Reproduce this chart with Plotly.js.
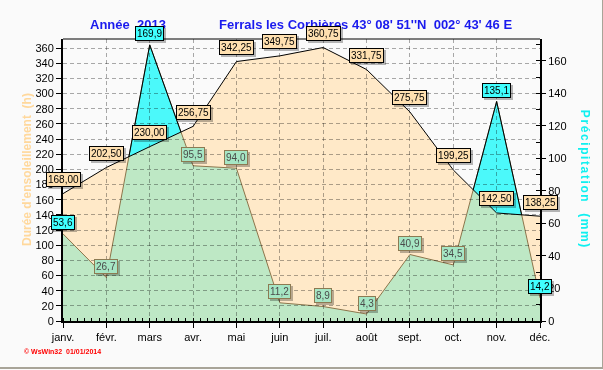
<!DOCTYPE html>
<html><head><meta charset="utf-8">
<script src="https://cdn.plot.ly/plotly-3.0.1.min.js"></script>
<style>
html,body{margin:0;padding:0;background:#fafafa;}
#wrap{width:602px;height:367px;border-right:1px solid #a8a498;border-bottom:2px solid #a8a498;}
#chart{width:602px;height:367px;}
.annotation rect.bg{filter:drop-shadow(2px 2px 0 rgba(0,0,0,0.28));}
</style></head><body><div id="wrap"><div id="chart"></div></div>
<script>
const months = ['janv.','févr.','mars','avr.','mai','juin','juil.','août','sept.','oct.','nov.','déc.'];
const sunshine = [168.00,202.50,230.00,256.75,342.25,349.75,360.75,331.75,275.75,199.25,142.50,138.25];
const precipitation = [53.6,26.7,169.9,95.5,94.0,11.2,8.9,4.3,40.9,34.5,135.1,14.2];
const cyanLabelIdx = [0,2,10,11];
const xs = months.map((m,i)=>i);

const FONT = 'Arial, "Liberation Sans", sans-serif';
const fmt = (v,d)=>v.toFixed(d).replace('.',',');

const data = [
  {x:xs, y:precipitation, yaxis:'y', mode:'lines', fill:'tozeroy',
   fillcolor:'rgb(100,250,253)', line:{color:'#000',width:1}},
  {x:xs, y:sunshine, yaxis:'y2', mode:'lines', fill:'tozeroy',
   fillcolor:'rgb(255,233,200)', line:{color:'#000',width:1}},
  {x:xs, y:precipitation, yaxis:'y3', mode:'lines', fill:'tozeroy',
   fillcolor:'rgb(190,254,252)', line:{color:'rgb(140,128,96)',width:1}}
];

const gridc = 'rgba(0,0,0,0.33)';
const ann = [];
const px = v => (v-63)/477, py = v => (321-v)/282;
const paperAnn = (x,y,text,font,extra)=>Object.assign({xref:'paper',yref:'paper',x:px(x),y:py(y),
  xanchor:'center',yanchor:'middle',text:text,showarrow:false,font:font},extra||{});
ann.push(paperAnn(128,24,'<b>Année\u00a0 2013</b>',{family:FONT,size:13,color:'#1a1aee'}));
ann.push(paperAnn(365,24,"<b>Ferrals les Corbières 43° 08' 51''N\u00a0 002° 43' 46 E</b>",{family:FONT,size:13,color:'#1a1aee'}));
ann.push(paperAnn(27,170,"<b>Durée d'ensoleillement\u00a0 (h)</b>",{family:FONT,size:12,color:'#ffd89c'},{textangle:-90}));
ann.push(paperAnn(585,179,'<b>Précipitation\u00a0 (mm)</b>',{family:FONT,size:12,color:'#10f0f0'},{textangle:90}));
ann.push(paperAnn(22,351,'<b>© WsWin32\u00a0 01/01/2014</b>',{family:FONT,size:7,color:'#ff0000'},{xanchor:'left'}));

sunshine.forEach((v,i)=>ann.push({x:xs[i],y:v,xref:'x',yref:'y2',xanchor:'center',yanchor:'middle',
  text:fmt(v,2),showarrow:false,yshift:14,
  bgcolor:'#ffe0b0',bordercolor:'#000',borderwidth:1,borderpad:1,font:{family:FONT,size:10,color:'#000'}}));
precipitation.forEach((v,i)=>{
  const c = cyanLabelIdx.includes(i);
  ann.push({x:xs[i],y:v,xref:'x',yref:'y',xanchor:'center',yanchor:'middle',
    text:fmt(v,1),showarrow:false,yshift:11,
    bgcolor:c?'#40ffff':'#a6e6c4',bordercolor:c?'#000':'#8c7a52',borderwidth:1,borderpad:1,
    font:{family:FONT,size:10,color:c?'#000':'#4a4a4a'}});
});

const layout = {
  width:602, height:367,
  margin:{l:63,r:62,t:39,b:46,pad:0},
  paper_bgcolor:'#fafafa', plot_bgcolor:'#fafafa',
  showlegend:false,
  font:{family:FONT,size:11,color:'#000'},
  xaxis:{range:[0,11], tickmode:'array', tickvals:xs, ticktext:months,
    showgrid:true, gridcolor:gridc, griddash:'4px,3px', gridwidth:1,
    showline:true, linecolor:'#000', linewidth:2, zeroline:false,
    ticks:'outside', ticklen:5, tickcolor:'#000', tickfont:{size:11,color:'#000'},
    minor:{tickmode:'linear', tick0:0, dtick:1/6, ticks:'inside', ticklen:3, tickcolor:'#000', showgrid:false}},
  yaxis:{side:'right', range:[0,173.5], tickmode:'linear', tick0:0, dtick:20,
    showgrid:false, zeroline:false, showline:true, linecolor:'#000', linewidth:2,
    ticks:'outside', ticklen:4, tickcolor:'#000', tickfont:{size:11,color:'#000'},
    minor:{tickmode:'linear', tick0:0, dtick:10, ticks:'inside', ticklen:4, tickcolor:'#000', showgrid:false}},
  yaxis2:{overlaying:'y', side:'left', range:[0,372], tickmode:'linear', tick0:0, dtick:20,
    showgrid:true, gridcolor:gridc, griddash:'4px,3px', gridwidth:1, zeroline:false,
    showline:true, linecolor:'#000', linewidth:2, ticks:'outside', ticklen:5, tickcolor:'#000',
    tickfont:{size:11,color:'#000'}},
  yaxis3:{overlaying:'y', range:[0,173.5], visible:false},
  shapes:[{type:'line',xref:'paper',yref:'paper',x0:0,x1:1,y0:1,y1:1,line:{color:'#000',width:1}}],
  annotations:ann
};

Plotly.newPlot('chart', data, layout, {staticPlot:true}).then(gd=>{
  const over = gd.querySelector('.overplot');
  const grid = gd.querySelector('.gridlayer');
  if(over && grid) over.parentNode.insertBefore(grid, over.nextSibling);
  gd.querySelectorAll('.overplot .xy3').forEach(g=>{g.style.mixBlendMode='multiply';});
  gd.querySelectorAll('.annotation-text').forEach(t=>{
    if(t.textContent.indexOf('Précipitation')>=0) t.style.letterSpacing='1.6px';
  });
});
</script></body></html>
